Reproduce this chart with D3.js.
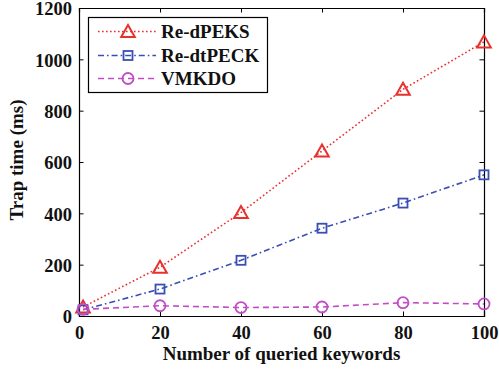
<!DOCTYPE html>
<html>
<head>
<meta charset="utf-8">
<script src="https://cdn.jsdelivr.net/npm/d3@7"></script>
<style>
  body { margin: 0; background: #fff; }
  svg { display: block; font-family: "Liberation Serif", "Times New Roman", serif; font-weight: bold; }
</style>
</head>
<body>
<svg class="chart" width="499" height="373"></svg>
<script>
const keywords = [1, 20, 40, 60, 80, 100]
const reDPEKS = [35, 190, 403, 643, 883, 1068]
const reDtPECK = [24, 105, 217, 342, 440, 550]
const vmkdo = [26, 40, 33, 35, 52, 47]
const xTicks = [0, 20, 40, 60, 80, 100]
const yTicks = [0, 200, 400, 600, 800, 1000, 1200]

const series = [
    { name: "Re-dPEKS", values: reDPEKS, color: "#e8302c", dash: "1.6,2.4", marker: "triangle" },
    { name: "Re-dtPECK", values: reDtPECK, color: "#3a4fb4", dash: "6,3,1.6,3", marker: "square" },
    { name: "VMKDO", values: vmkdo, color: "#c24cc6", dash: "6,4", marker: "circle" }
]

const svg = d3.select("svg.chart")
const margin = { left: 79, right: 15, top: 8, bottom: 57 }
const width = 499 - margin.left - margin.right
const height = 373 - margin.top - margin.bottom

const g = svg.append("g").attr("transform", `translate(${margin.left},${margin.top})`)

const x = d3.scaleLinear().domain([0, 100]).range([0, width])
const y = d3.scaleLinear().domain([0, 1200]).range([height, 0])

const tickFont = 18.5
const labelFont = 19
const fmt = d3.format("d")

// axes with inward ticks, box on
const tickLen = 4.5
const xAxis = g.append("g").attr("transform", `translate(0,${height})`)
    .call(d3.axisBottom(x).tickValues(xTicks).tickFormat(fmt).tickSize(-tickLen).tickPadding(10))
const yAxis = g.append("g")
    .call(d3.axisLeft(y).tickValues(yTicks).tickFormat(fmt).tickSize(-tickLen).tickPadding(7))
const xTop = g.append("g")
    .call(d3.axisTop(x).tickValues(xTicks).tickSize(-tickLen).tickFormat(""))
const yRight = g.append("g").attr("transform", `translate(${width},0)`)
    .call(d3.axisRight(y).tickValues(yTicks).tickSize(-tickLen).tickFormat(""))

;[xAxis, yAxis, xTop, yRight].forEach(a => {
    a.select(".domain").attr("stroke", "#000").attr("stroke-width", 1.2)
    a.selectAll(".tick line").attr("stroke", "#000").attr("stroke-width", 1)
    a.selectAll("text").attr("font-family", "Liberation Serif").attr("font-weight", "bold")
        .attr("font-size", tickFont).attr("fill", "#111")
})
xAxis.selectAll("text").attr("dy", "0.71em")
yAxis.selectAll("text").attr("dy", "0.36em")

// axis labels
svg.append("text")
    .attr("x", margin.left + width / 2)
    .attr("y", 360)
    .attr("text-anchor", "middle")
    .attr("font-size", labelFont)
    .attr("fill", "#111")
    .text("Number of queried keywords")

svg.append("text")
    .attr("transform", `translate(23,160) rotate(-90)`)
    .attr("text-anchor", "middle")
    .attr("font-size", labelFont)
    .attr("fill", "#111")
    .text("Trap time (ms)")

function drawMarker(sel, type, color) {
    if (type === "triangle") {
        sel.append("path")
            .attr("d", "M0,-6.5L6.8,5.5L-6.8,5.5Z")
            .attr("fill", "none").attr("stroke", color).attr("stroke-width", 2)
    } else if (type === "square") {
        sel.append("rect")
            .attr("x", -4.5).attr("y", -4.5).attr("width", 9).attr("height", 9)
            .attr("fill", "none").attr("stroke", color).attr("stroke-width", 1.8)
    } else {
        sel.append("circle")
            .attr("r", 5.5)
            .attr("fill", "none").attr("stroke", color).attr("stroke-width", 1.8)
    }
}

const line = d3.line().x(d => x(d[0])).y(d => y(d[1]))

series.forEach(s => {
    const pts = keywords.map((k, i) => [k, s.values[i]])
    g.append("path")
        .datum(pts)
        .attr("d", line)
        .attr("fill", "none")
        .attr("stroke", s.color)
        .attr("stroke-width", 1.6)
        .attr("stroke-dasharray", s.dash)

    g.selectAll(null)
        .data(pts)
        .enter()
        .append("g")
        .attr("transform", d => `translate(${x(d[0])},${y(d[1])})`)
        .each(function() { drawMarker(d3.select(this), s.marker, s.color) })
})

// legend
const legend = svg.append("g")
legend.append("rect")
    .attr("x", 88.5).attr("y", 17.5).attr("width", 179).attr("height", 75)
    .attr("fill", "#fff").attr("stroke", "#000").attr("stroke-width", 1.2)

const rowY = [31.5, 55.5, 78.5]
series.forEach((s, i) => {
    const row = legend.append("g").attr("transform", `translate(0,${rowY[i]})`)
    row.append("line")
        .attr("x1", 98).attr("x2", 156).attr("y1", 0).attr("y2", 0)
        .attr("stroke", s.color).attr("stroke-width", 1.6)
        .attr("stroke-dasharray", s.dash)
    const m = row.append("g").attr("transform", "translate(128,0)")
    drawMarker(m, s.marker, s.color)
    row.append("text")
        .attr("x", 161).attr("y", 6.5)
        .attr("font-size", labelFont)
        .attr("fill", "#111")
        .text(s.name)
})
</script>
</body>
</html>
